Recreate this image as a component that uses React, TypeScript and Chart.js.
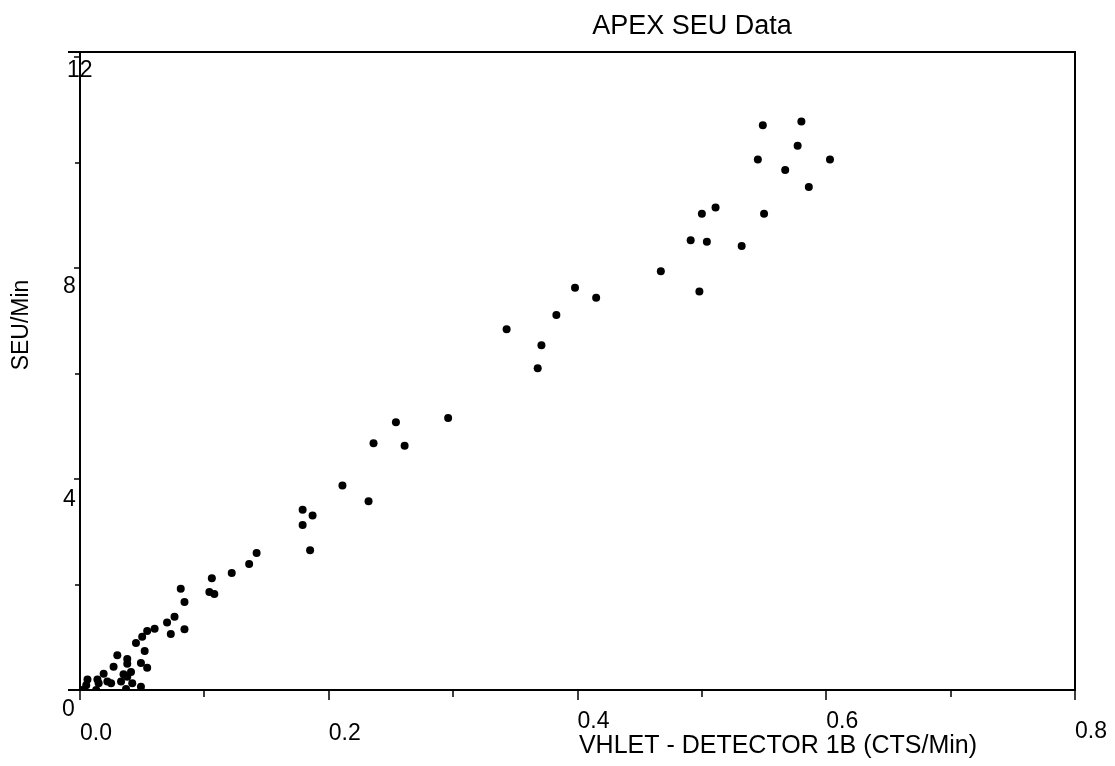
import React, { useEffect, useRef } from "react";
import { Chart, registerables } from "chart.js";

Chart.register(...registerables);

const chartTitle = "APEX SEU Data";
const xAxisTitle = "VHLET - DETECTOR 1B (CTS/Min)";
const yAxisTitle = "SEU/Min";

const xTickValues = [0, 0.2, 0.4, 0.6, 0.8];
const xTickLabels = ["0.0", "0.2", "0.4", "0.6", "0.8"];
const xMinorTicks = [0.1, 0.3, 0.5, 0.7];
const yTickValues = [0, 4, 8, 12];
const yTickLabels = ["0", "4", "8", "12"];
const yMinorTicks = [2, 6, 10];

const detectorRate = [
  0.549, 0.58, 0.577, 0.545, 0.603, 0.567, 0.586, 0.511, 0.5, 0.55,
  0.491, 0.504, 0.532, 0.467, 0.498,
  0.398, 0.415, 0.383, 0.343, 0.371, 0.368, 0.296,
  0.254, 0.236, 0.261, 0.211, 0.232, 0.179, 0.187, 0.179, 0.185, 0.142,
  0.136, 0.122, 0.106, 0.081, 0.104, 0.108,
  0.084, 0.076, 0.07, 0.06, 0.054, 0.05, 0.084, 0.073, 0.045, 0.052,
  0.03, 0.038, 0.038, 0.027, 0.049, 0.054, 0.035, 0.038, 0.019, 0.006,
  0.014, 0.022, 0.015, 0.033, 0.042, 0.049, 0.001, 0.013, 0.037, 0.025,
  0.005, 0.041,
];
const seuRate = [
  10.71, 10.78, 10.32, 10.06, 10.06, 9.86, 9.54, 9.15, 9.03, 9.03,
  8.53, 8.5, 8.42, 7.94, 7.56,
  7.63, 7.44, 7.11, 6.84, 6.54, 6.1, 5.16,
  5.08, 4.68, 4.63, 3.88, 3.58, 3.42, 3.31, 3.13, 2.65, 2.6,
  2.39, 2.22, 2.12, 1.92, 1.86, 1.82,
  1.67, 1.39, 1.28, 1.16, 1.12, 1.01, 1.15, 1.06, 0.89, 0.74,
  0.66, 0.59, 0.5, 0.44, 0.51, 0.42, 0.3, 0.25, 0.31, 0.2,
  0.2, 0.16, 0.13, 0.16, 0.13, 0.06, 0.0, 0.0, 0.02, 0.13,
  0.09, 0.34,
];

const FONT = '"Liberation Sans", Arial, Helvetica, sans-serif';

const axesPlugin = {
  id: "oldAxes",
  beforeDatasetsDraw(chart: any) {
    const { ctx, chartArea } = chart;
    const xs = chart.scales.x;
    const ys = chart.scales.y;
    const { left, right, top, bottom } = chartArea;
    ctx.save();
    ctx.strokeStyle = "#000";
    ctx.fillStyle = "#000";
    ctx.lineWidth = 2;
    // frame
    ctx.beginPath();
    ctx.moveTo(left - 12, top);
    ctx.lineTo(right, top);
    ctx.lineTo(right, bottom);
    ctx.lineTo(left - 12, bottom);
    ctx.moveTo(left, top);
    ctx.lineTo(left, bottom);
    ctx.stroke();

    // ticks
    ctx.lineWidth = 1.5;
    ctx.beginPath();
    xTickValues.forEach((v) => {
      const px = Math.round(xs.getPixelForValue(v));
      ctx.moveTo(px, bottom);
      ctx.lineTo(px, bottom + 10);
    });
    xMinorTicks.forEach((v) => {
      const px = Math.round(xs.getPixelForValue(v));
      ctx.moveTo(px, bottom);
      ctx.lineTo(px, bottom + 7);
    });
    yTickValues.forEach((v) => {
      const py = Math.round(ys.getPixelForValue(v));
      ctx.moveTo(left, py);
      ctx.lineTo(left - 6, py);
    });
    yMinorTicks.forEach((v) => {
      const py = Math.round(ys.getPixelForValue(v));
      ctx.moveTo(left, py);
      ctx.lineTo(left - 5, py);
    });
    ctx.stroke();

    // x tick labels
    ctx.font = `23px ${FONT}`;
    ctx.textAlign = "left";
    ctx.textBaseline = "top";
    const xLabelDy = [32, 32, 20, 20, 30];
    xTickValues.forEach((v, i) => {
      const px = xs.getPixelForValue(v);
      ctx.fillText(xTickLabels[i], px, bottom + xLabelDy[i]);
    });

    // y tick labels
    const yLabelDx = [-18, -17, -17, -13];
    const yLabelDy = [8, 9, 7, 2];
    yTickValues.forEach((v, i) => {
      const py = ys.getPixelForValue(v);
      ctx.fillText(yTickLabels[i], left + yLabelDx[i], py + yLabelDy[i]);
    });

    // titles
    ctx.textAlign = "center";
    ctx.textBaseline = "alphabetic";
    ctx.font = `27px ${FONT}`;
    ctx.fillText(chartTitle, 692, 34);

    ctx.font = `25px ${FONT}`;
    ctx.fillText(xAxisTitle, 778, 753);

    ctx.save();
    ctx.translate(22, 325);
    ctx.rotate(-Math.PI / 2);
    ctx.font = `23px ${FONT}`;
    ctx.textBaseline = "middle";
    ctx.fillText(yAxisTitle, 0, 0);
    ctx.restore();

    ctx.restore();
  },
};

export default function App() {
  const canvasRef = useRef<HTMLCanvasElement | null>(null);

  useEffect(() => {
    const canvas = canvasRef.current;
    if (!canvas) return;
    const points = detectorRate.map((x, i) => ({ x, y: seuRate[i] }));
    const chart = new Chart(canvas, {
      type: "scatter",
      data: {
        datasets: [
          {
            data: points,
            backgroundColor: "#000",
            borderWidth: 0,
            pointRadius: 4,
            pointHoverRadius: 4,
          },
        ],
      },
      options: {
        responsive: false,
        animation: false,
        events: [],
        layout: { padding: { left: 80, right: 40, top: 52, bottom: 76 } },
        plugins: {
          legend: { display: false },
          tooltip: { enabled: false },
          title: { display: false },
        },
        scales: {
          x: { type: "linear", min: 0, max: 0.8, display: false },
          y: { type: "linear", min: 0, max: 12.1, display: false },
        },
      },
      plugins: [axesPlugin],
    });
    return () => chart.destroy();
  }, []);

  return (
    <div style={{ position: "fixed", left: 0, top: 0, width: 1115, height: 766, background: "#fff" }}>
      <canvas ref={canvasRef} width={1115} height={766} style={{ display: "block" }} />
    </div>
  );
}
